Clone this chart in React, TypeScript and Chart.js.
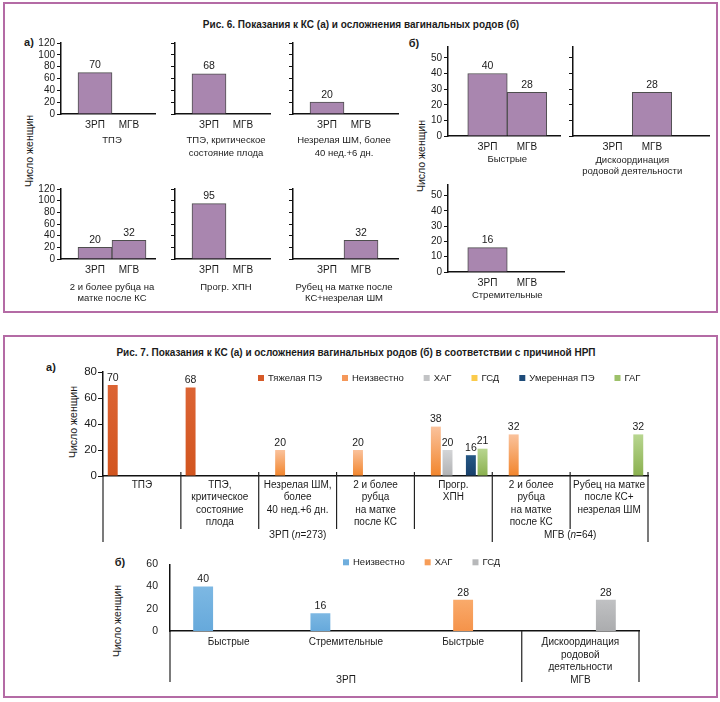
import React, { useEffect, useRef } from 'react';
import { Chart, registerables } from 'chart.js';

Chart.register(...registerables);

const FONT = '"Liberation Sans", Arial, Helvetica, sans-serif';
const TEXT = '#1b1b1b';
const AXIS = '#111111';
const FRAME = '#B46BA5';

// ===== Fig. 6 data =====
const fig6Groups = ['ЗРП', 'МГВ'];
const fig6aCaptions: string[][] = [
  ['ТПЭ'],
  ['ТПЭ, критическое', 'состояние плода'],
  ['Незрелая ШМ, более', '40 нед.+6 дн.'],
  ['2 и более рубца на', 'матке после КС'],
  ['Прогр. ХПН'],
  ['Рубец на матке после', 'КС+незрелая ШМ'],
];
const fig6aZRP: (number | null)[] = [70, 68, 20, 20, 95, null];
const fig6aMGV: (number | null)[] = [null, null, null, 32, null, 32];
const fig6aTicks = [0, 20, 40, 60, 80, 100, 120];
const fig6aMax = 120;

const fig6bCaptions: string[][] = [['Быстрые'], ['Дискоординация', 'родовой деятельности'], ['Стремительные']];
const fig6bZRP: (number | null)[] = [40, null, 16];
const fig6bMGV: (number | null)[] = [28, 28, null];
const fig6bTicks = [0, 10, 20, 30, 40, 50];
const fig6bMax = 57;

// ===== Fig. 7a data =====
const fig7aCategories: string[][] = [
  ['ТПЭ'],
  ['ТПЭ,', 'критическое', 'состояние', 'плода'],
  ['Незрелая ШМ,', 'более', '40 нед.+6 дн.'],
  ['2 и более', 'рубца', 'на матке', 'после КС'],
  ['Прогр.', 'ХПН'],
  ['2 и более', 'рубца', 'на матке', 'после КС'],
  ['Рубец на матке', 'после КС+', 'незрелая ШМ'],
];
const fig7aSeries = ['Тяжелая ПЭ', 'Неизвестно', 'ХАГ', 'ГСД', 'Умеренная ПЭ', 'ГАГ'];
const fig7aSeverePE: (number | null)[] = [70, 68, null, null, null, null, null];
const fig7aUnknown: (number | null)[] = [null, null, 20, 20, 38, 32, null];
const fig7aCAH: (number | null)[] = [null, null, null, null, 20, null, null];
const fig7aGDM: (number | null)[] = [null, null, null, null, null, null, null];
const fig7aModeratePE: (number | null)[] = [null, null, null, null, 16, null, null];
const fig7aGAH: (number | null)[] = [null, null, null, null, 21, null, 32];
const fig7aGroupNames = ['ЗРП', 'МГВ'];
const fig7aGroupN = ['273', '64'];
const fig7aGroupSizes = [5, 2];
const fig7aTicks = [0, 20, 40, 60, 80];
const fig7aMax = 80;

// ===== Fig. 7b data =====
const fig7bCategories: string[][] = [['Быстрые'], ['Стремительные'], ['Быстрые'], ['Дискоординация', 'родовой', 'деятельности']];
const fig7bSeries = ['Неизвестно', 'ХАГ', 'ГСД'];
const fig7bUnknown: (number | null)[] = [40, 16, null, null];
const fig7bCAH: (number | null)[] = [null, null, 28, null];
const fig7bGDM: (number | null)[] = [null, null, null, 28];
const fig7bGroupNames = ['ЗРП', 'МГВ'];
const fig7bGroupSizes = [3, 1];
const fig7bTicks = [0, 20, 40, 60];
const fig7bMax = 60;

// ===== styles =====
const BAR6 = '#A986AF';
const BAR6_EDGE = '#4E4E4E';
const fig7aColors: [string, string][] = [
  ['#DC6434', '#D2551F'],
  ['#FAC29C', '#F2852C'],
  ['#D4D5D7', '#B1B2B4'],
  ['#FDD466', '#F8C233'],
  ['#255885', '#173F6A'],
  ['#B8D690', '#8AB04E'],
];
const fig7aLegend = ['#D65A28', '#F5985A', '#C2C3C5', '#FBCB4B', '#1D4B79', '#9DC16A'];
const fig7bColors: [string, string][] = [
  ['#7DB8E3', '#66A9DB'],
  ['#F9AA6B', '#F5934A'],
  ['#C0C1C3', '#ABACAE'],
];
const fig7bLegend = ['#6FAEDD', '#F79D58', '#B7B8BA'];

// ===== plugins =====
function valueLabelsPlugin(size: number, dy: number) {
  return {
    id: 'valueLabels',
    afterDatasetsDraw(chart: any) {
      const ctx = chart.ctx;
      ctx.save();
      ctx.font = `${size}px ${FONT}`;
      ctx.fillStyle = TEXT;
      ctx.textAlign = 'center';
      ctx.textBaseline = 'bottom';
      chart.data.datasets.forEach((ds: any, di: number) => {
        const meta = chart.getDatasetMeta(di);
        meta.data.forEach((el: any, i: number) => {
          const raw = ds.data[i];
          const v = raw !== null && typeof raw === 'object' ? raw.y : raw;
          if (v === null || v === undefined) return;
          ctx.fillText(String(v), el.x, el.y - dy);
        });
      });
      ctx.restore();
    },
  };
}

function captionPlugin(lines: string[], dy: number, gap: number) {
  return {
    id: 'caption',
    afterDraw(chart: any) {
      const { ctx, chartArea, scales } = chart;
      const cx = scales.x.getPixelForValue((1 + fig6Groups.length) / 2);
      ctx.save();
      ctx.font = `9.5px ${FONT}`;
      ctx.fillStyle = TEXT;
      ctx.textAlign = 'center';
      ctx.textBaseline = 'middle';
      lines.forEach((l, i) => ctx.fillText(l, cx, chartArea.bottom + dy + i * gap));
      ctx.restore();
    },
  };
}

function legendPlugin(names: string[], colors: string[], dx: number, dy: number) {
  return {
    id: 'customLegend',
    afterDraw(chart: any) {
      const { ctx, chartArea } = chart;
      let px = chartArea.left + dx;
      const cy = chartArea.top + dy;
      ctx.save();
      ctx.font = `9.5px ${FONT}`;
      ctx.textAlign = 'left';
      ctx.textBaseline = 'middle';
      names.forEach((nm, i) => {
        ctx.fillStyle = colors[i];
        ctx.fillRect(px, cy - 3, 6, 6);
        px += 10;
        ctx.fillStyle = TEXT;
        ctx.fillText(nm, px, cy + 0.5);
        px += ctx.measureText(nm).width + 20;
      });
      ctx.restore();
    },
  };
}

function groupAxisPlugin(o: {
  names: string[];
  ns: (string | null)[];
  sizes: number[];
  innerLen: number;
  outerLen: number;
  above: number;
  labelDy: number;
}) {
  return {
    id: 'groupAxis',
    afterDraw(chart: any) {
      const { ctx, chartArea } = chart;
      const x = chart.scales.x;
      const n = chart.data.labels.length;
      const w = (x.right - x.left) / n;
      const bottom = chartArea.bottom;
      const outer = new Set<number>([0]);
      let acc = 0;
      o.sizes.forEach((s) => {
        acc += s;
        outer.add(acc);
      });
      ctx.save();
      ctx.strokeStyle = '#222';
      ctx.lineWidth = 1.2;
      for (let i = 0; i <= n; i++) {
        const isOuter = outer.has(i);
        const len = isOuter ? o.outerLen : o.innerLen;
        if (!len) continue;
        const px = x.left + i * w;
        ctx.beginPath();
        ctx.moveTo(px, bottom - (i === 0 ? 0 : o.above));
        ctx.lineTo(px, bottom + len);
        ctx.stroke();
      }
      ctx.fillStyle = TEXT;
      ctx.textBaseline = 'middle';
      ctx.textAlign = 'left';
      let start = 0;
      o.names.forEach((g, gi) => {
        const cx = x.left + (start + o.sizes[gi] / 2) * w;
        start += o.sizes[gi];
        const nv = o.ns[gi];
        const parts: [string, boolean][] = nv ? [[g + ' (', false], ['n', true], ['=' + nv + ')', false]] : [[g, false]];
        const fontOf = (it: boolean) => `${it ? 'italic ' : ''}10px ${FONT}`;
        let total = 0;
        parts.forEach(([t, it]) => {
          ctx.font = fontOf(it);
          total += ctx.measureText(t).width;
        });
        let px = cx - total / 2;
        parts.forEach(([t, it]) => {
          ctx.font = fontOf(it);
          ctx.fillText(t, px, bottom + o.labelDy);
          px += ctx.measureText(t).width;
        });
      });
      ctx.restore();
    },
  };
}

function gradientFill(top: string, bottom: string) {
  return (c: any) => {
    const chart = c.chart;
    const y = chart.scales && chart.scales.y;
    const v = c.raw;
    if (!y || v === null || v === undefined || typeof v !== 'number' || !chart.chartArea) return bottom;
    const y0 = y.getPixelForValue(v);
    const y1 = y.getPixelForValue(0);
    if (!isFinite(y0) || !isFinite(y1) || y0 === y1) return bottom;
    const g = chart.ctx.createLinearGradient(0, y0, 0, y1);
    g.addColorStop(0, top);
    g.addColorStop(1, bottom);
    return g;
  };
}

// ===== chart configs =====
const SMALL_YW = 30;
const SMALL_PADTOP = 12;
const SMALL_PADRIGHT = 8;
const SMALL_XH = 48;

function smallBarConfig(p: {
  zrp: number | null;
  mgv: number | null;
  max: number;
  ticks: number[];
  showY: boolean;
  len: number;
  unit: number;
  caption: string[];
  capDy: number;
  capGap: number;
}): any {
  return {
    type: 'bar',
    data: {
      datasets: [
        {
          data: [
            { x: 1, y: p.zrp },
            { x: 2, y: p.mgv },
          ],
          backgroundColor: BAR6,
          borderColor: BAR6_EDGE,
          borderWidth: 1,
          categoryPercentage: 1,
          barPercentage: 1,
        },
      ],
    },
    options: {
      animation: false,
      responsive: false,
      layout: { padding: { top: SMALL_PADTOP, right: SMALL_PADRIGHT, left: 0, bottom: 0 } },
      plugins: { legend: { display: false }, tooltip: { enabled: false } },
      scales: {
        x: {
          type: 'linear',
          min: 0,
          max: p.len / p.unit,
          offset: false,
          afterBuildTicks: (s: any) => {
            s.ticks = fig6Groups.map((_, i) => ({ value: i + 1 }));
          },
          afterFit: (s: any) => {
            s.height = SMALL_XH;
          },
          grid: { display: false, drawTicks: false },
          border: { display: true, color: AXIS, width: 1.5 },
          ticks: {
            padding: 5,
            font: { family: FONT, size: 10, lineHeight: 1.2 },
            color: TEXT,
            maxRotation: 0,
            autoSkip: false,
            callback: (v: number) => fig6Groups[Math.round(v) - 1] ?? '',
          },
        },
        y: {
          min: 0,
          max: p.max,
          afterBuildTicks: (s: any) => {
            s.ticks = p.ticks.map((v) => ({ value: v }));
          },
          afterFit: (s: any) => {
            s.width = SMALL_YW;
          },
          grid: { display: true, drawOnChartArea: false, drawTicks: true, tickLength: 4, color: AXIS, lineWidth: 1 },
          border: { display: true, color: AXIS, width: 1.5 },
          ticks: { display: p.showY, autoSkip: false, padding: 2, font: { family: FONT, size: 10 }, color: TEXT },
        },
      },
    },
    plugins: [valueLabelsPlugin(10.5, 2), captionPlugin(p.caption, p.capDy, p.capGap)],
  };
}

const F7A_YW = 45;
const F7A_PADTOP = 14;
const F7A_XH = 72;

function fig7aConfig(): any {
  const values = [fig7aSeverePE, fig7aUnknown, fig7aCAH, fig7aGDM, fig7aModeratePE, fig7aGAH];
  return {
    type: 'bar',
    data: {
      labels: fig7aCategories,
      datasets: fig7aSeries.map((name, i) => ({
        label: name,
        data: values[i],
        backgroundColor: gradientFill(fig7aColors[i][0], fig7aColors[i][1]),
        borderWidth: 0,
        categoryPercentage: 0.9,
        barPercentage: 0.85,
      })),
    },
    options: {
      animation: false,
      responsive: false,
      layout: { padding: { top: F7A_PADTOP, right: 12, left: 0, bottom: 0 } },
      plugins: { legend: { display: false }, tooltip: { enabled: false } },
      scales: {
        x: {
          afterFit: (s: any) => {
            s.height = F7A_XH;
          },
          grid: { display: false, drawTicks: false },
          border: { display: true, color: AXIS, width: 1.5 },
          ticks: {
            padding: 3,
            font: { family: FONT, size: 10, lineHeight: 1.23 },
            color: TEXT,
            maxRotation: 0,
            minRotation: 0,
            autoSkip: false,
          },
        },
        y: {
          min: 0,
          max: fig7aMax,
          afterBuildTicks: (s: any) => {
            s.ticks = fig7aTicks.map((v) => ({ value: v }));
          },
          afterFit: (s: any) => {
            s.width = F7A_YW;
          },
          grid: { display: true, drawOnChartArea: false, drawTicks: true, tickLength: 5, color: AXIS },
          border: { display: true, color: AXIS, width: 1.5 },
          ticks: { autoSkip: false, padding: 1, font: { family: FONT, size: 11.5 }, color: TEXT },
        },
      },
    },
    plugins: [
      valueLabelsPlugin(10.5, 2),
      legendPlugin(fig7aSeries, fig7aLegend, 155, 6),
      groupAxisPlugin({
        names: fig7aGroupNames,
        ns: fig7aGroupN,
        sizes: fig7aGroupSizes,
        innerLen: 53,
        outerLen: 66,
        above: 4,
        labelDy: 59.5,
      }),
    ],
  };
}

const F7B_YW = 56;
const F7B_PADTOP = 16;
const F7B_XH = 58;

function fig7bConfig(): any {
  const values = [fig7bUnknown, fig7bCAH, fig7bGDM];
  return {
    type: 'bar',
    data: {
      labels: fig7bCategories,
      datasets: fig7bSeries.map((name, i) => ({
        label: name,
        data: values[i],
        backgroundColor: gradientFill(fig7bColors[i][0], fig7bColors[i][1]),
        borderWidth: 0,
        categoryPercentage: 0.652,
        barPercentage: 0.78,
      })),
    },
    options: {
      animation: false,
      responsive: false,
      layout: { padding: { top: F7B_PADTOP, right: 12, left: 0, bottom: 0 } },
      plugins: { legend: { display: false }, tooltip: { enabled: false } },
      scales: {
        x: {
          afterFit: (s: any) => {
            s.height = F7B_XH;
          },
          grid: { display: false, drawTicks: false },
          border: { display: true, color: AXIS, width: 1.5 },
          ticks: {
            padding: 5,
            font: { family: FONT, size: 10, lineHeight: 1.25 },
            color: TEXT,
            maxRotation: 0,
            minRotation: 0,
            autoSkip: false,
          },
        },
        y: {
          min: 0,
          max: fig7bMax,
          afterBuildTicks: (s: any) => {
            s.ticks = fig7bTicks.map((v) => ({ value: v }));
          },
          afterFit: (s: any) => {
            s.width = F7B_YW;
          },
          grid: { display: false, drawTicks: false },
          border: { display: true, color: AXIS, width: 1.5 },
          ticks: { autoSkip: false, padding: 12, font: { family: FONT, size: 10.5 }, color: TEXT },
        },
      },
    },
    plugins: [
      valueLabelsPlugin(10.5, 2),
      legendPlugin(fig7bSeries, fig7bLegend, 173, -2),
      groupAxisPlugin({
        names: fig7bGroupNames,
        ns: [null, null],
        sizes: fig7bGroupSizes,
        innerLen: 0,
        outerLen: 51,
        above: 0,
        labelDy: 49,
      }),
    ],
  };
}

// ===== components =====
function ChartBox({ left, top, width, height, make }: { left: number; top: number; width: number; height: number; make: () => any }) {
  const ref = useRef<HTMLCanvasElement | null>(null);
  useEffect(() => {
    if (!ref.current) return;
    const chart = new Chart(ref.current, make());
    return () => chart.destroy();
  }, []);
  return (
    <canvas
      ref={ref}
      width={width}
      height={height}
      style={{ position: 'absolute', left, top, width, height, display: 'block' }}
    />
  );
}

function Label({ x, y, children, size = 10, bold = false, rotate = false }: any) {
  return (
    <div
      style={{
        position: 'absolute',
        left: x,
        top: y,
        transform: `translate(-50%, -50%)${rotate ? ' rotate(-90deg)' : ''}`,
        fontSize: size,
        fontWeight: bold ? 700 : 400,
        whiteSpace: 'nowrap',
        lineHeight: 1,
        fontFamily: FONT,
        color: TEXT,
      }}
    >
      {children}
    </div>
  );
}

// layout (page pixel positions of axes)
const fig6aCols = [
  { axisX: 61, len: 94 },
  { axisX: 175, len: 95 },
  { axisX: 293, len: 105 },
];
const fig6aRows = [
  { top: 43, bottom: 114, capDy: 26, capGap: 13 },
  { top: 189, bottom: 259, capDy: 28.5, capGap: 10.5 },
];
const fig6bBoxes = [
  { axisX: 448, len: 112, top: 47, bottom: 136, capDy: 23.5, capGap: 11.5, showY: true },
  { axisX: 573, len: 136, top: 47, bottom: 136, capDy: 24, capGap: 11.5, showY: false },
  { axisX: 448, len: 116, top: 185, bottom: 272, capDy: 23, capGap: 11.5, showY: true },
];

export default function App() {
  const small: any[] = [];
  fig6aCaptions.forEach((cap, i) => {
    const col = fig6aCols[i % 3];
    const row = fig6aRows[Math.floor(i / 3)];
    const plotH = row.bottom - row.top;
    small.push({
      key: 'a' + i,
      left: col.axisX - SMALL_YW,
      top: row.top - SMALL_PADTOP,
      width: SMALL_YW + col.len + SMALL_PADRIGHT,
      height: SMALL_PADTOP + plotH + SMALL_XH,
      make: () =>
        smallBarConfig({
          zrp: fig6aZRP[i],
          mgv: fig6aMGV[i],
          max: fig6aMax,
          ticks: fig6aTicks,
          showY: i % 3 === 0,
          len: col.len,
          unit: 34,
          caption: cap,
          capDy: row.capDy,
          capGap: row.capGap,
        }),
    });
  });
  fig6bCaptions.forEach((cap, i) => {
    const b = fig6bBoxes[i];
    const plotH = b.bottom - b.top;
    small.push({
      key: 'b' + i,
      left: b.axisX - SMALL_YW,
      top: b.top - SMALL_PADTOP,
      width: SMALL_YW + b.len + SMALL_PADRIGHT,
      height: SMALL_PADTOP + plotH + SMALL_XH,
      make: () =>
        smallBarConfig({
          zrp: fig6bZRP[i],
          mgv: fig6bMGV[i],
          max: fig6bMax,
          ticks: fig6bTicks,
          showY: b.showY,
          len: b.len,
          unit: 39.5,
          caption: cap,
          capDy: b.capDy,
          capGap: b.capGap,
        }),
    });
  });

  return (
    <div
      style={{
        position: 'fixed',
        left: 0,
        top: 0,
        width: 720,
        height: 702,
        background: '#fff',
        overflow: 'hidden',
        fontFamily: FONT,
        color: TEXT,
      }}
    >
      <div style={{ position: 'absolute', left: 2.5, top: 1.5, width: 715, height: 311, border: `2.2px solid ${FRAME}`, boxSizing: 'border-box' }} />
      <div style={{ position: 'absolute', left: 2.5, top: 334.5, width: 715, height: 363, border: `2.2px solid ${FRAME}`, boxSizing: 'border-box' }} />

      <Label x={361} y={25} size={10} bold>
        Рис. 6. Показания к КС (а) и осложнения вагинальных родов (б)
      </Label>
      <Label x={29} y={42} size={11} bold>а)</Label>
      <Label x={414} y={43} size={11} bold>б)</Label>
      <Label x={29} y={151} size={10.5} rotate>Число женщин</Label>
      <Label x={421} y={156} size={10.5} rotate>Число женщин</Label>

      <Label x={356} y={353} size={10} bold>
        Рис. 7. Показания к КС (а) и осложнения вагинальных родов (б) в соответствии с причиной НРП
      </Label>
      <Label x={51} y={367} size={11} bold>а)</Label>
      <Label x={120} y={562} size={11} bold>б)</Label>
      <Label x={73} y={422} size={10.5} rotate>Число женщин</Label>
      <Label x={117} y={621} size={10.5} rotate>Число женщин</Label>

      {small.map((s) => (
        <ChartBox key={s.key} left={s.left} top={s.top} width={s.width} height={s.height} make={s.make} />
      ))}

      <ChartBox
        left={103 - F7A_YW}
        top={372 - F7A_PADTOP}
        width={F7A_YW + 545 + 12}
        height={F7A_PADTOP + 104 + F7A_XH}
        make={fig7aConfig}
      />
      <ChartBox
        left={170 - F7B_YW}
        top={562 - F7B_PADTOP}
        width={F7B_YW + 469 + 12}
        height={F7B_PADTOP + 69 + F7B_XH}
        make={fig7bConfig}
      />
    </div>
  );
}
